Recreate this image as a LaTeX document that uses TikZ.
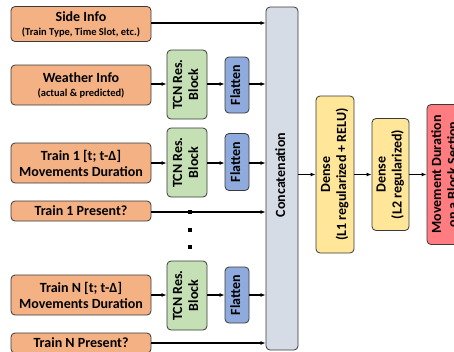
\documentclass[tikz,border=0pt]{standalone}
\usepackage{fontspec}
\setmainfont{Carlito}
\usetikzlibrary{arrows.meta}
\definecolor{borange}{HTML}{F4B183}
\definecolor{bgreen}{HTML}{C5E0B4}
\definecolor{bblue}{HTML}{8FAADC}
\definecolor{bgray}{HTML}{D6DCE5}
\definecolor{byellow}{HTML}{FFE699}
\definecolor{bred}{HTML}{FF7C80}
\definecolor{bline}{HTML}{3A3A3A}
\newcommand{\rtxt}[1]{\rotatebox{90}{\begin{tabular}{@{}c@{}}#1\end{tabular}}}
\newcommand{\subt}[1]{{\fontsize{10.5}{12}\selectfont #1}}
\tikzset{
  box/.style={draw=bline, line width=0.8pt, rounded corners=4pt, inner sep=0pt,
    align=center, font=\fontsize{14}{16}\selectfont\bfseries},
  inbox/.style={box, fill=borange, minimum width=140pt},
  tcnbox/.style={box, fill=bgreen, minimum width=40pt, minimum height=69pt},
  flatbox/.style={box, fill=bblue, minimum width=24pt, minimum height=56pt},
  arr/.style={-{Latex[length=5pt,width=4pt]}, line width=1.1pt},
  dotsq/.style={fill=black, minimum size=4pt, inner sep=0pt, rectangle}
}
\begin{document}
\begin{tikzpicture}[x=1pt,y=-1pt]
\useasboundingbox (0,0) rectangle (454,351);
\clip (0,0) rectangle (454,351);
% inputs
\node[inbox, minimum height=35pt] (side) at (81,24) {Side Info\\[-2pt]\subt{(Train Type, Time Slot, etc.)}};
\node[inbox, minimum height=40pt] (weather) at (81,85) {Weather Info\\[-2pt]\subt{(actual \& predicted)}};
\node[inbox, minimum height=40pt] (train1) at (81,163) {Train 1 [t; t-Δ]\\Movements Duration};
\node[inbox, minimum height=20pt] (p1) at (81,211) {Train 1 Present?};
\node[inbox, minimum height=40pt] (trainN) at (81,295) {Train N [t; t-Δ]\\Movements Duration};
\node[inbox, minimum height=20pt] (pN) at (81,343) {Train N Present?};
% TCN + flatten
\node[tcnbox] (tcn1) at (187,84.5) {\rtxt{TCN Res.\\Block}};
\node[flatbox] (flat1) at (237,85) {\rtxt{Flatten}};
\node[tcnbox] (tcn2) at (187,162.5) {\rtxt{TCN Res.\\Block}};
\node[flatbox, minimum height=57pt] (flat2) at (237,162) {\rtxt{Flatten}};
\node[tcnbox] (tcnN) at (187,295.5) {\rtxt{TCN Res.\\Block}};
\node[flatbox] (flatN) at (237,295) {\rtxt{Flatten}};
% dots
\node[dotsq] (d1) at (190,212) {};
\node[dotsq] (d2) at (190,229.5) {};
\node[dotsq] (d3) at (190,247) {};
% concat and dense
\node[box, fill=bgray, minimum width=32pt, minimum height=343pt] (concat) at (282,178.5) {};
\node[font=\fontsize{14}{16}\selectfont\bfseries, inner sep=0pt] (concatlbl) at (282,175) {\rtxt{Concatenation}};
\node[box, fill=byellow, minimum width=38pt, minimum height=157pt] (dense1) at (335,174.5) {\rtxt{Dense\\(L1 regularized + RELU)}};
\node[box, fill=byellow, minimum width=37pt, minimum height=112pt] (dense2) at (390.5,174.5) {\rtxt{Dense\\(L2 regularized)}};
\node[box, fill=bred, minimum width=38pt, minimum height=140pt] (out) at (446,174.5) {\rtxt{Movement Duration\\on a Block Section}};
% arrows
\draw[arr] (side.east |- 0,23) -- (concat.west |- 0,23);
\draw[arr] (weather.east |- 0,84) -- (tcn1.west |- 0,84);
\draw[arr] (tcn1.east |- 0,84) -- (flat1.west |- 0,84);
\draw[arr] (flat1.east |- 0,84) -- (concat.west |- 0,84);
\draw[arr] (train1.east) -- (train1.east -| tcn2.west);
\draw[arr] (tcn2.east |- train1) -- (flat2.west |- train1);
\draw[arr] (flat2.east |- train1) -- (concat.west |- train1);
\draw[arr] (p1.east |- d1) -- (concat.west |- d1);
\draw[arr] (trainN.east) -- (trainN.east -| tcnN.west);
\draw[arr] (tcnN.east |- trainN) -- (flatN.west |- trainN);
\draw[arr] (flatN.east |- trainN) -- (concat.west |- trainN);
\draw[arr] (pN.east) -- (pN.east -| concat.west);
\draw[arr] (concat.east |- dense1.west) -- (dense1.west);
\draw[arr] (dense1.east) -- (dense1.east -| dense2.west);
\draw[arr] (dense2.east) -- (dense2.east -| out.west);
\end{tikzpicture}
\end{document}
